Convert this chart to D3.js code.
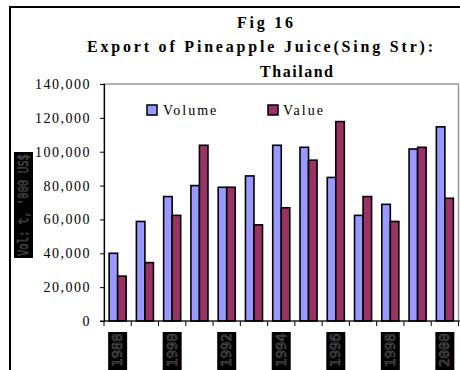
<!DOCTYPE html>
<html>
<head>
<meta charset="utf-8">
<script src="https://cdn.jsdelivr.net/npm/d3@7"></script>
<style>
  body { margin: 0; background: #fff; }
  svg { display: block; }
</style>
</head>
<body>
<div id="chart"></div>
<script>
const years = ["1988", "1989", "1990", "1991", "1992", "1993", "1994", "1995", "1996", "1997", "1998", "1999", "2000"];
const volume = [40000, 58800, 73500, 80000, 79000, 85700, 103800, 102600, 84800, 62400, 68900, 101600, 114700];
const value = [26500, 34500, 62400, 103800, 79000, 56800, 66900, 95000, 117800, 73500, 58800, 102600, 72500];
const seriesNames = ["Volume", "Value"];
const yTicks = [0, 20000, 40000, 60000, 80000, 100000, 120000, 140000];
const titleLines = ["Fig 16", "Export of Pineapple Juice(Sing Str):", "Thailand"];
const yTitle = "Vol: t, '000 US$";

const width = 460, height = 370;
const plot = {left: 104, right: 458.5, top: 84, bottom: 321};
const colours = ["#9999ff", "#993366"];
const serif = "'Liberation Serif', 'Times New Roman', serif";

const svg = d3.select("#chart").append("svg")
    .attr("width", width)
    .attr("height", height);

// outer frame
svg.append("rect")
    .attr("x", 10).attr("y", 7)
    .attr("width", 470).attr("height", 380)
    .attr("fill", "none")
    .attr("stroke", "#000")
    .attr("stroke-width", 2);

// title
const titlePos = [{x: 265, y: 28, w: 56}, {x: 260, y: 52, w: 346}, {x: 296.5, y: 77, w: 73}];
svg.selectAll(".title")
    .data(titleLines)
    .join("text")
    .attr("class", "title")
    .attr("x", (d, i) => titlePos[i].x)
    .attr("y", (d, i) => titlePos[i].y)
    .attr("text-anchor", "middle")
    .attr("textLength", (d, i) => titlePos[i].w)
    .attr("lengthAdjust", "spacing")
    .style("font-family", serif)
    .style("font-weight", "bold")
    .style("font-size", "16px")
    .text(d => d);

// scales
const x0 = d3.scaleBand()
    .domain(years)
    .range([plot.left, plot.right])
    .paddingInner(0.375)
    .paddingOuter(0.1875);
const step = x0.step();
const x1 = d3.scaleBand()
    .domain(seriesNames)
    .range([0, x0.bandwidth()]);
const y = d3.scaleLinear()
    .domain([0, 140000])
    .range([plot.bottom, plot.top]);

// plot area border
svg.append("rect")
    .attr("x", plot.left).attr("y", plot.top)
    .attr("width", plot.right - plot.left)
    .attr("height", plot.bottom - plot.top)
    .attr("fill", "none")
    .attr("stroke", "#999")
    .attr("stroke-width", 1.5);

// bars
const data = years.map((yr, i) => ({year: yr, vals: [volume[i], value[i]]}));
const groups = svg.selectAll(".grp")
    .data(data)
    .join("g")
    .attr("class", "grp")
    .attr("transform", d => `translate(${x0(d.year)},0)`);
groups.selectAll("rect")
    .data(d => d.vals.map((v, k) => ({name: seriesNames[k], v: v, k: k})))
    .join("rect")
    .attr("x", d => x1(d.name))
    .attr("y", d => y(d.v))
    .attr("width", x1.bandwidth())
    .attr("height", d => y(0) - y(d.v))
    .attr("fill", d => colours[d.k])
    .attr("stroke", "#000")
    .attr("stroke-width", 1.6);

// y axis
const yAxis = svg.append("g")
    .attr("transform", `translate(${plot.left},0)`)
    .call(d3.axisLeft(y).tickValues(yTicks).tickSize(4).tickPadding(9)
        .tickFormat(d3.format(",")));
yAxis.select(".domain").attr("stroke", "#000").attr("stroke-width", 1.2);
yAxis.selectAll("line").attr("stroke", "#000");
yAxis.selectAll("text")
    .style("font-family", serif)
    .style("font-size", "14px")
    .style("letter-spacing", "1.5px")
    .attr("fill", "#000");

// x axis
const boundaries = years.map((yr, i) => plot.left + i * step).concat([plot.left + years.length * step]);
const xg = svg.append("g");
xg.append("line")
    .attr("x1", plot.left - 4).attr("x2", plot.right + 2)
    .attr("y1", plot.bottom).attr("y2", plot.bottom)
    .attr("stroke", "#000").attr("stroke-width", 1.2);
xg.selectAll(".xtick")
    .data(boundaries)
    .join("line")
    .attr("class", "xtick")
    .attr("x1", d => d).attr("x2", d => d)
    .attr("y1", plot.bottom).attr("y2", plot.bottom + 5)
    .attr("stroke", "#000");

// x labels: every other year, rotated text on dark boxes
const labelYears = years.filter((d, i) => i % 2 === 0);
const lab = svg.selectAll(".xlab")
    .data(labelYears)
    .join("g")
    .attr("class", "xlab")
    .attr("transform", d => `translate(${x0(d) - x0.paddingOuter() * step + step / 2},0)`);
lab.append("rect")
    .attr("x", -9.5).attr("y", 332)
    .attr("width", 19).attr("height", 45)
    .attr("fill", "#000");
lab.append("text")
    .attr("transform", "translate(4.5,367) rotate(-90)")
    .attr("fill", "none")
    .attr("stroke", "#4a4a4a")
    .attr("stroke-width", 0.8)
    .style("font-family", "'DejaVu Sans Mono', monospace")
    .style("font-size", "14px")
    .text(d => d);

// y axis title on a dark box
svg.append("rect")
    .attr("x", 14).attr("y", 152)
    .attr("width", 19).attr("height", 106)
    .attr("fill", "#000");
svg.append("text")
    .attr("transform", "translate(28,256) rotate(-90)")
    .attr("textLength", 102)
    .attr("lengthAdjust", "spacingAndGlyphs")
    .attr("fill", "none")
    .attr("stroke", "#4a4a4a")
    .attr("stroke-width", 0.8)
    .style("font-family", "'DejaVu Sans Mono', monospace")
    .style("font-size", "14px")
    .text(yTitle);

// legend
const legendPos = [{x: 147, tx: 163}, {x: 268, tx: 283}];
const leg = svg.selectAll(".leg")
    .data(seriesNames)
    .join("g")
    .attr("class", "leg");
leg.append("rect")
    .attr("x", (d, i) => legendPos[i].x)
    .attr("y", 105)
    .attr("width", 10).attr("height", 10)
    .attr("fill", (d, i) => colours[i])
    .attr("stroke", "#000")
    .attr("stroke-width", 1.5);
leg.append("text")
    .attr("x", (d, i) => legendPos[i].tx)
    .attr("y", 115)
    .style("font-family", serif)
    .style("font-size", "14px")
    .style("letter-spacing", "2px")
    .text(d => d);
</script>
</body>
</html>
